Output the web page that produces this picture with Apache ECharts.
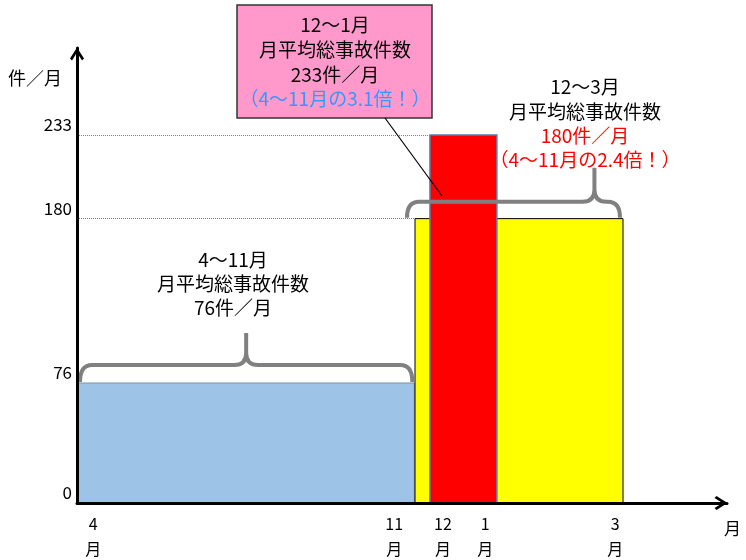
<!DOCTYPE html>
<html>
<head>
  <meta charset="utf-8">
  <title>月平均総事故件数</title>
  <script src="https://cdn.jsdelivr.net/npm/echarts/dist/echarts.min.js"></script>
  <style>
    html, body { margin: 0; padding: 0; background: #fff; }
    #chart { width: 746px; height: 560px; }
  </style>
</head>
<body>
  <div id="chart"></div>
  <script>
    // 期間ごとの月平均件数（4～11月, 12～3月, 12～1月）
    var periodNames = ['4～11月', '12～3月', '12～1月'];
    var monthlyAvg = [76, 180, 233];
    // 横軸は模式図なので 0〜100 の目盛り単位で期間の幅を置く
    var spanFrom = [0, 52, 54.3];
    var spanTo = [51.9, 84, 64.6];
    var yTicks = [0, 76, 180, 233];
    var xTickPos = [2.5, 48.8, 56.3, 62.8, 82.8];
    var xTickLabels = ['4', '11', '12', '1', '3'];

    var FONT = '"Noto Sans CJK JP", "Noto Sans", sans-serif';

    var barStyle = [
      { fill: '#9DC3E6', stroke: '#6f7f90', width: 0.8 },
      { fill: '#FFFF00', stroke: '#000000', width: 1 },
      { fill: '#FF0000', stroke: '#5B7FA8', width: 1.5 }
    ];
    // 波かっこの見た目（px 単位の調整）
    var braceLayout = [
      { inset: [3, -2], peakAt: 0.5, rise: 17, peak: 32 },
      { inset: [-8, -3], peakAt: 0.88, rise: 16, peak: 34 }
    ];

    var chevron = 'path://M0,11 L7,0 L14,11 L12,13 L7,5 L2,13 Z';

    var ratio1 = (monthlyAvg[2] / monthlyAvg[0]).toFixed(1);
    var ratio2 = (monthlyAvg[1] / monthlyAvg[0]).toFixed(1);

    var leftNote = [periodNames[0], '月平均総事故件数', monthlyAvg[0] + '件／月'];
    var rightNote = [periodNames[1], '月平均総事故件数', monthlyAvg[1] + '件／月',
      '（' + periodNames[0] + 'の' + ratio2 + '倍！）'];
    var boxNote = [periodNames[2], '月平均総事故件数', monthlyAvg[2] + '件／月',
      '（' + periodNames[0] + 'の' + ratio1 + '倍！）'];

    function textLines(cx, cy, step, lines, colors) {
      return lines.map(function (t, i) {
        return {
          type: 'text', z: 100,
          style: {
            x: cx, y: cy + i * step, text: t,
            fill: colors[i] || '#000',
            font: '19px ' + FONT,
            align: 'center', verticalAlign: 'middle'
          }
        };
      });
    }

    var myChart = echarts.init(document.getElementById('chart'));

    var rectData = periodNames.map(function (n, i) {
      return [spanFrom[i], spanTo[i], monthlyAvg[i]];
    });
    var braceData = [0, 1].map(function (i) {
      return [spanFrom[i], spanTo[i], monthlyAvg[i]];
    });

    var graphics = [
      {
        type: 'rect', z: 100,
        shape: { x: 237, y: 5, width: 195, height: 113 },
        style: { fill: '#FF99CC', stroke: '#333333', lineWidth: 1.5 }
      },
      {
        type: 'line', z: 100,
        shape: { x1: 385, y1: 118, x2: 442, y2: 196 },
        style: { stroke: '#000', lineWidth: 1.2 }
      }
    ]
      .concat(textLines(335, 25, 24.7, boxNote, ['#000', '#000', '#000', '#3399FF']))
      .concat(textLines(585, 87, 24.4, rightNote, ['#000', '#000', '#FF0000', '#FF0000']))
      .concat(textLines(233, 260, 24, leftNote, []));

    var option = {
      animation: false,
      textStyle: { fontFamily: FONT },
      grid: { left: 77, right: 19, top: 48, bottom: 57, outerBoundsMode: 'none' },
      xAxis: {
        type: 'value', min: 0, max: 100, z: 5,
        axisLine: {
          show: true, lineStyle: { color: '#000', width: 3 },
          symbol: ['none', chevron], symbolSize: [14, 13], symbolOffset: [0, -6]
        },
        axisTick: { show: false },
        splitLine: { show: false },
        axisLabel: {
          customValues: xTickPos,
          formatter: function (v) {
            var i = xTickPos.indexOf(v);
            return (i < 0 ? '' : xTickLabels[i]) + '\n月';
          },
          color: '#000', fontSize: 16, lineHeight: 25, margin: 8
        },
        name: '月', nameLocation: 'end', nameGap: -3,
        nameTextStyle: { color: '#000', fontSize: 17, verticalAlign: 'top', padding: [17, 0, 0, 0] }
      },
      yAxis: {
        type: 'value', min: 0, max: 288, z: 5,
        axisLine: {
          show: true, lineStyle: { color: '#000', width: 3 },
          symbol: ['none', chevron], symbolSize: [14, 13], symbolOffset: [0, -6]
        },
        axisTick: { show: false },
        splitLine: { show: false },
        axisLabel: {
          customValues: yTicks,
          color: '#000', fontSize: 17, verticalAlign: 'bottom', margin: 5,
          padding: [0, 0, 2, 0]
        },
        name: '件／月', nameLocation: 'end', nameGap: -30,
        nameTextStyle: { color: '#000', fontSize: 18, align: 'right', verticalAlign: 'middle', padding: [0, 15, 0, 0] }
      },
      series: [
        {
          type: 'custom',
          name: '月平均',
          z: 2,
          encode: { x: [0, 1], y: 2 },
          data: rectData,
          renderItem: function (params, api) {
            var a = api.coord([api.value(0), api.value(2)]);
            var b = api.coord([api.value(1), 0]);
            var s = barStyle[params.dataIndex];
            return {
              type: 'rect',
              shape: { x: a[0], y: a[1], width: b[0] - a[0], height: b[1] - a[1] },
              style: { fill: s.fill, stroke: s.stroke, lineWidth: s.width }
            };
          },
          markLine: {
            silent: true,
            symbol: ['none', 'none'],
            label: { show: false },
            lineStyle: { type: 'dotted', color: '#808080', width: 1 },
            data: [
              [{ coord: [0, monthlyAvg[2]] }, { coord: [spanFrom[2], monthlyAvg[2]] }],
              [{ coord: [0, monthlyAvg[1]] }, { coord: [spanFrom[1], monthlyAvg[1]] }]
            ]
          }
        },
        {
          type: 'custom',
          name: 'brace',
          z: 4,
          encode: { x: [0, 1], y: 2 },
          data: braceData,
          renderItem: function (params, api) {
            var L = braceLayout[params.dataIndex];
            var a = api.coord([api.value(0), api.value(2)]);
            var b = api.coord([api.value(1), api.value(2)]);
            var x0 = a[0] + L.inset[0], x1 = b[0] + L.inset[1];
            var yEnd = a[1] - 1, yLine = yEnd - L.rise, yPeak = yLine - L.peak;
            var xp = x0 + (x1 - x0) * L.peakAt;
            var r = 12;
            var d = 'M' + x0 + ',' + yEnd +
              ' Q' + x0 + ',' + yLine + ' ' + (x0 + r) + ',' + yLine +
              ' L' + (xp - r) + ',' + yLine +
              ' Q' + xp + ',' + yLine + ' ' + xp + ',' + (yLine - r) +
              ' L' + xp + ',' + yPeak +
              ' M' + xp + ',' + (yLine - r) +
              ' Q' + xp + ',' + yLine + ' ' + (xp + r) + ',' + yLine +
              ' L' + (x1 - r) + ',' + yLine +
              ' Q' + x1 + ',' + yLine + ' ' + x1 + ',' + yEnd;
            return {
              type: 'path',
              shape: { pathData: d },
              style: { fill: null, stroke: '#808080', lineWidth: 4 }
            };
          }
        }
      ],
      graphic: graphics
    };

    myChart.setOption(option);
  </script>
</body>
</html>
